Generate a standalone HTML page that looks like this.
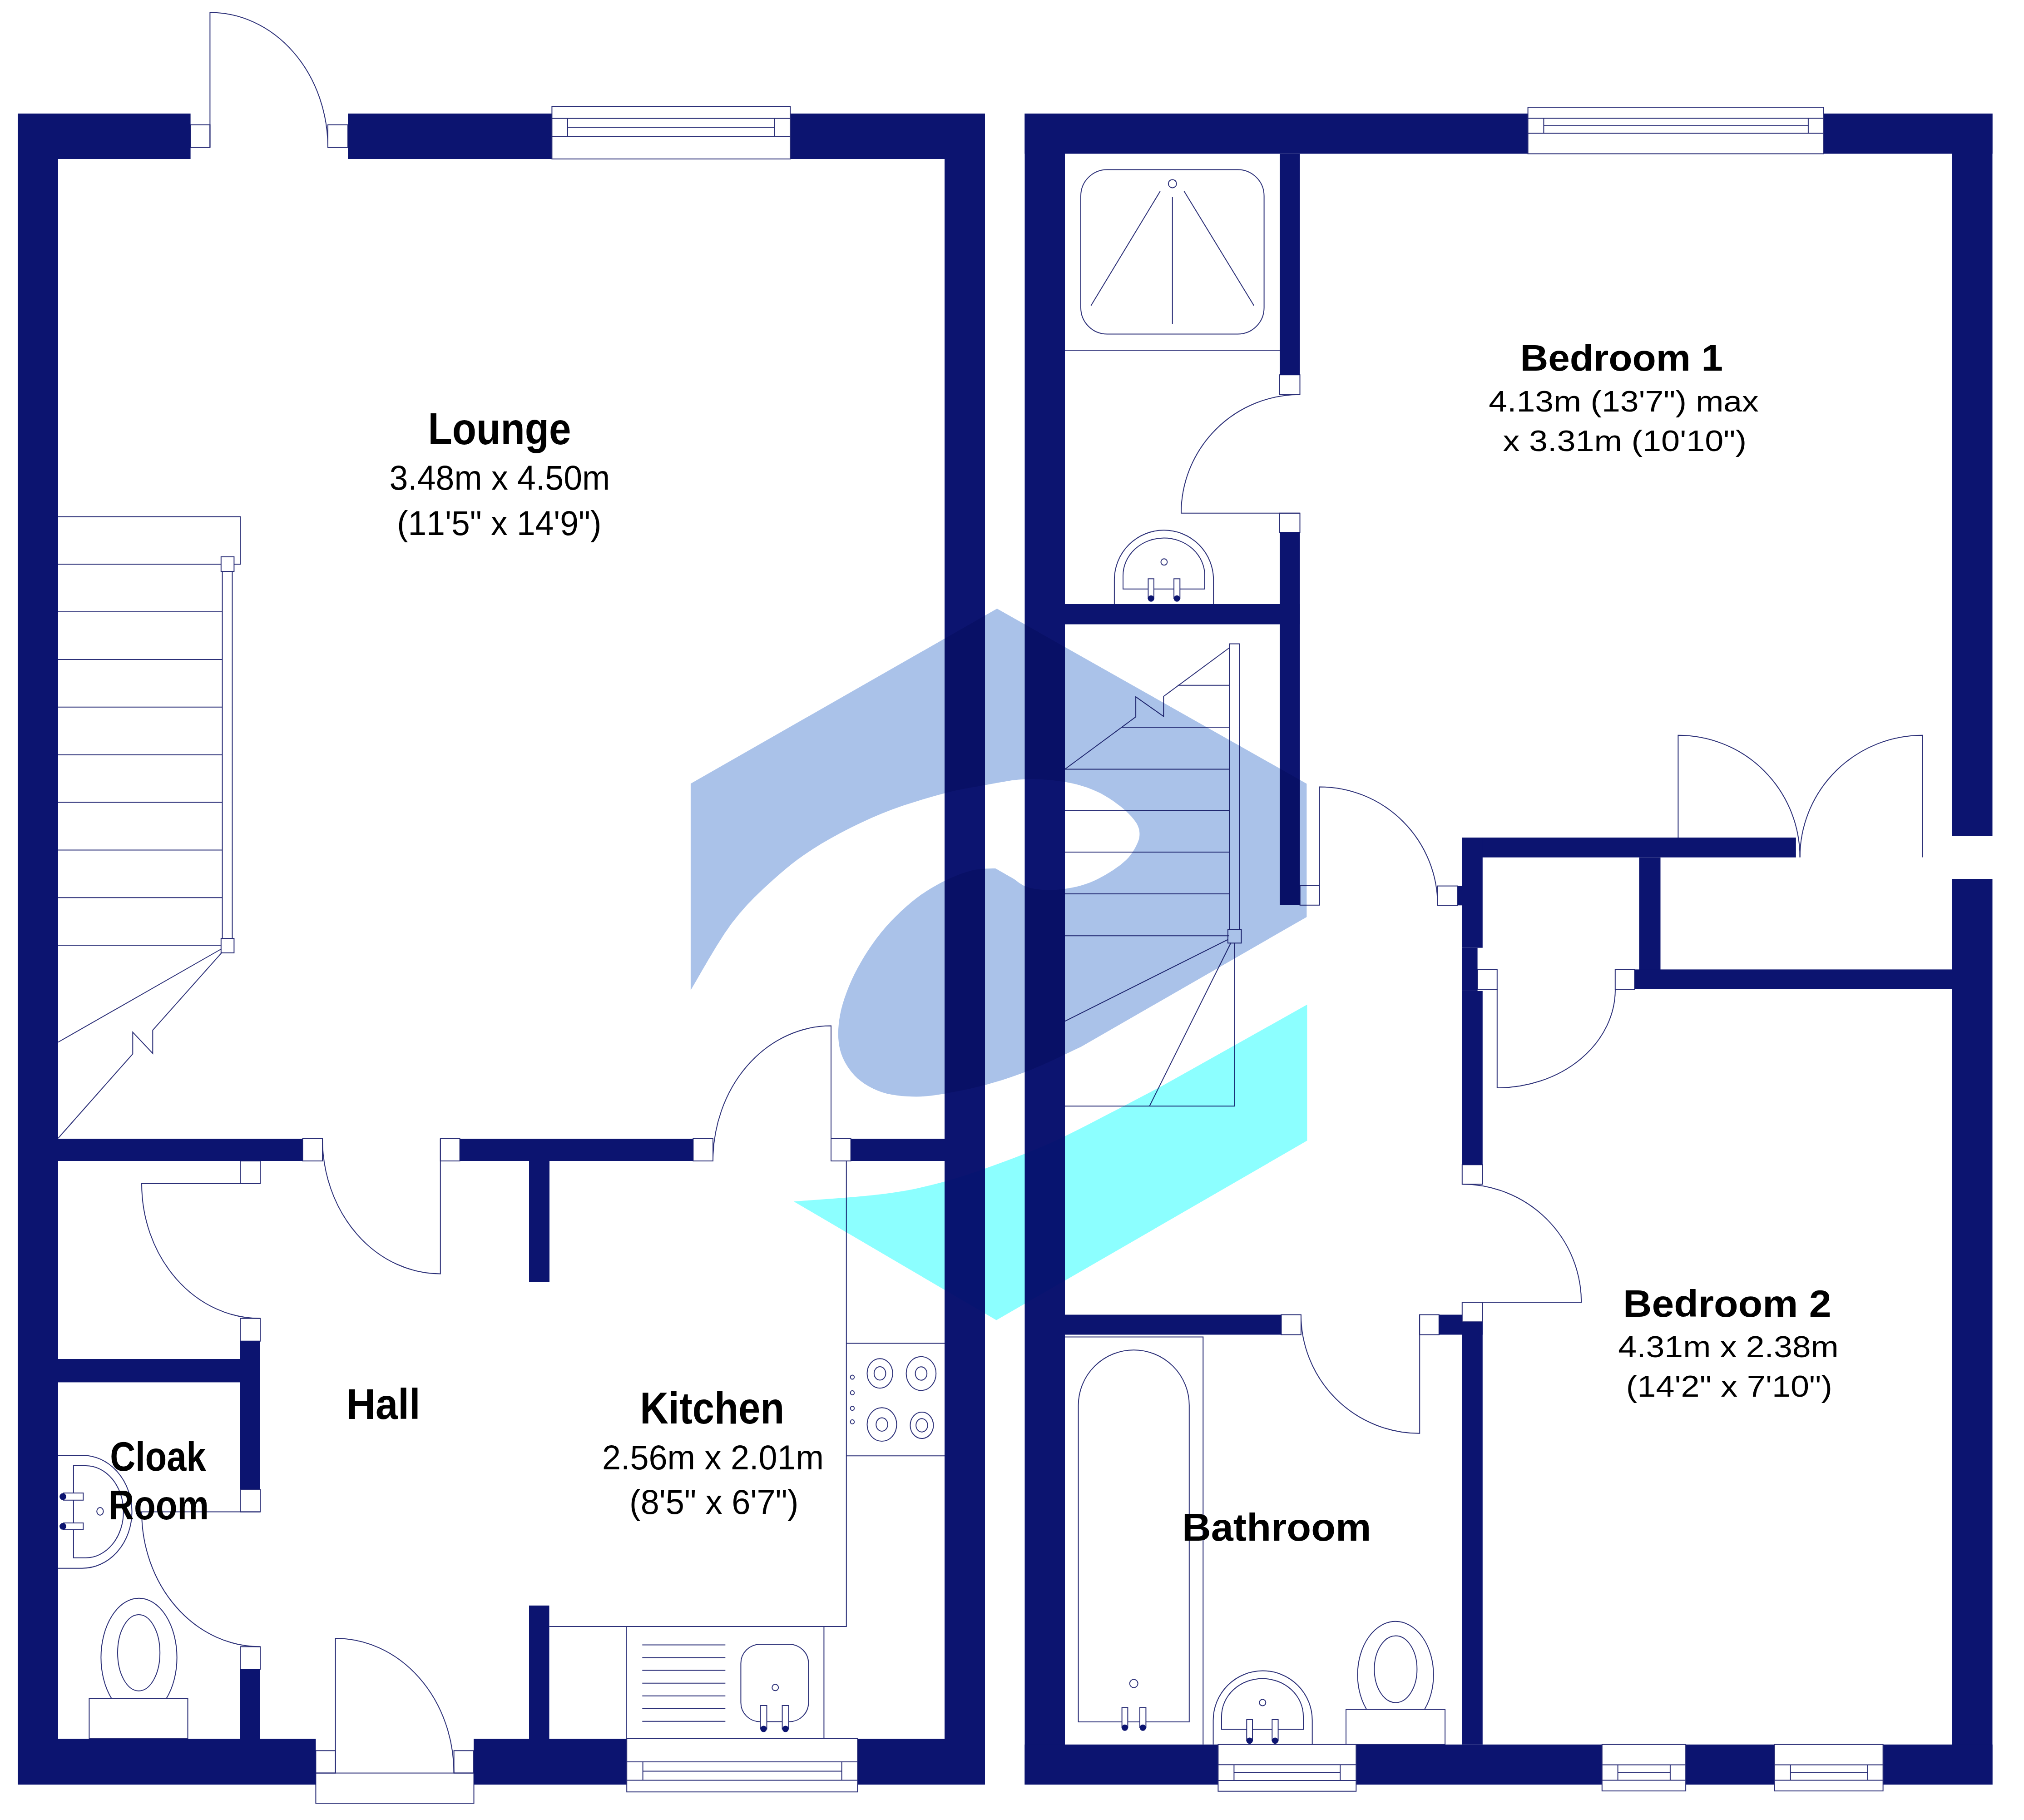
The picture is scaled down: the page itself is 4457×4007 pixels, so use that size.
<!DOCTYPE html>
<html><head><meta charset="utf-8"><title>Floor plan</title>
<style>html,body{margin:0;padding:0;background:#fff}svg{display:block}</style></head>
<body><svg width="4457" height="4007" viewBox="0 0 4457 4007">
<rect width="4457" height="4007" fill="#fff"/>
<g fill="none" stroke="#2c3078" stroke-width="2.0">
<rect x="419.6" y="274.7" width="42.8" height="50.1" fill="none" stroke="#2c3078" stroke-width="2.0"/>
<rect x="722.0" y="274.7" width="44.0" height="50.1" fill="none" stroke="#2c3078" stroke-width="2.0"/>
<rect x="666.5" y="2507.0" width="43.5" height="49.0" fill="none" stroke="#2c3078" stroke-width="2.0"/>
<rect x="969.8" y="2507.0" width="42.8" height="49.0" fill="none" stroke="#2c3078" stroke-width="2.0"/>
<rect x="1526.4" y="2507.0" width="43.6" height="49.0" fill="none" stroke="#2c3078" stroke-width="2.0"/>
<rect x="1830.0" y="2507.0" width="43.6" height="49.0" fill="none" stroke="#2c3078" stroke-width="2.0"/>
<rect x="529.0" y="2556.0" width="44.0" height="50.0" fill="none" stroke="#2c3078" stroke-width="2.0"/>
<rect x="529.0" y="2902.7" width="44.0" height="50.0" fill="none" stroke="#2c3078" stroke-width="2.0"/>
<rect x="529.0" y="3279.0" width="44.0" height="49.6" fill="none" stroke="#2c3078" stroke-width="2.0"/>
<rect x="529.0" y="3625.4" width="44.0" height="49.6" fill="none" stroke="#2c3078" stroke-width="2.0"/>
<rect x="695.4" y="3854.3" width="43.3" height="49.3" fill="none" stroke="#2c3078" stroke-width="2.0"/>
<rect x="999.6" y="3854.3" width="43.4" height="49.3" fill="none" stroke="#2c3078" stroke-width="2.0"/>
<rect x="695.4" y="3903.6" width="348.1" height="66.4" fill="none" stroke="#2c3078" stroke-width="2.0"/>
<rect x="2818.0" y="825.2" width="44.5" height="43.5" fill="none" stroke="#2c3078" stroke-width="2.0"/>
<rect x="2818.0" y="1129.8" width="44.5" height="42.2" fill="none" stroke="#2c3078" stroke-width="2.0"/>
<rect x="2862.7" y="1949.7" width="43.0" height="43.1" fill="none" stroke="#2c3078" stroke-width="2.0"/>
<rect x="3165.8" y="1950.6" width="43.9" height="42.7" fill="none" stroke="#2c3078" stroke-width="2.0"/>
<rect x="3253.6" y="2134.4" width="43.2" height="43.6" fill="none" stroke="#2c3078" stroke-width="2.0"/>
<rect x="3556.8" y="2134.4" width="42.7" height="43.6" fill="none" stroke="#2c3078" stroke-width="2.0"/>
<rect x="3219.8" y="2564.3" width="45.0" height="42.9" fill="none" stroke="#2c3078" stroke-width="2.0"/>
<rect x="3219.8" y="2867.3" width="45.0" height="42.9" fill="none" stroke="#2c3078" stroke-width="2.0"/>
<rect x="2821.5" y="2894.5" width="43.4" height="44.0" fill="none" stroke="#2c3078" stroke-width="2.0"/>
<rect x="3126.0" y="2894.5" width="42.8" height="44.0" fill="none" stroke="#2c3078" stroke-width="2.0"/>
<path d="M462.4 324.8 V27.5 A259.6 297.3 0 0 1 722 324.8"/>
<path d="M969.8 2507 V2804.4 A259.8 297.4 0 0 1 710 2507"/>
<path d="M1830 2556 V2258.6 A260 297.4 0 0 0 1570 2556"/>
<path d="M573 2606 H312 A261 296.7 0 0 0 573 2902.7"/>
<path d="M573 3328.6 H312 A261 296.8 0 0 0 573 3625.4"/>
<path d="M738.7 3903.6 V3607.1 A260.9 296.5 0 0 1 999.6 3903.6"/>
<path d="M2862.5 1129.8 H2601 A261.5 261.1 0 0 1 2862.5 868.7"/>
<path d="M2905.7 1992.8 V1732.4 A260.1 260.4 0 0 1 3165.8 1992.8"/>
<path d="M3296.8 2178 V2395 A260.2 217 0 0 0 3557 2178"/>
<path d="M3695.4 1844 V1618.7 A268.2 268.8 0 0 1 3963.6 1887.5"/>
<path d="M4233.8 1887.5 V1618.7 A270.2 268.8 0 0 0 3963.6 1887.5"/>
<path d="M3220 2867.3 H3482.2 A262.2 260.1 0 0 0 3220 2607.2"/>
<path d="M3126.2 2894.5 V3155.8 A261.3 261.3 0 0 1 2864.9 2894.5"/>
<path d="M128.0 1137.4 L529.0 1137.4 L529.0 1242.3 L128.0 1242.3"/>
<path d="M128.0 1347.1 L489.6 1347.1"/>
<path d="M128.0 1452.0 L489.6 1452.0"/>
<path d="M128.0 1556.8 L489.6 1556.8"/>
<path d="M128.0 1661.7 L489.6 1661.7"/>
<path d="M128.0 1766.5 L489.6 1766.5"/>
<path d="M128.0 1871.4 L489.6 1871.4"/>
<path d="M128.0 1976.2 L489.6 1976.2"/>
<path d="M128.0 2081.1 L489.6 2081.1"/>
<path d="M489.6 1258.0 L489.6 2066.0"/>
<path d="M511.5 1258.0 L511.5 2066.0"/>
<rect x="486.8" y="1225.8" width="28.6" height="32.2" fill="#fff" stroke="#2c3078" stroke-width="2.0"/>
<rect x="486.8" y="2066.0" width="28.6" height="31.8" fill="#fff" stroke="#2c3078" stroke-width="2.0"/>
<path d="M487.0 2089.5 L128.0 2294.5"/>
<path d="M489.0 2096.7 L336.3 2268.1 L336.3 2319.2 L292.3 2272.5 L292.3 2320.3 L128.0 2506.0"/>
<path d="M1863.8 2556.0 L1863.8 3581.0 L1209.5 3581.0"/>
<path d="M1863.8 2957.5 L2080.0 2957.5"/>
<path d="M1863.8 3205.3 L2080.0 3205.3"/>
<ellipse cx="1937.6" cy="3023.7" rx="28.1" ry="32.5" fill="none"/>
<ellipse cx="1937.6" cy="3023.7" rx="12.8" ry="14.7" fill="none"/>
<ellipse cx="2028.4" cy="3024.0" rx="32.8" ry="37.2" fill="none"/>
<ellipse cx="2028.4" cy="3024.0" rx="12.8" ry="14.7" fill="none"/>
<ellipse cx="1942.0" cy="3136.2" rx="32.5" ry="36.9" fill="none"/>
<ellipse cx="1942.0" cy="3136.2" rx="12.8" ry="14.7" fill="none"/>
<ellipse cx="2029.9" cy="3138.0" rx="25.5" ry="29.0" fill="none"/>
<ellipse cx="2029.9" cy="3138.0" rx="12.8" ry="14.7" fill="none"/>
<ellipse cx="1876.9" cy="3032.0" rx="4.2" ry="4.6" fill="none"/>
<ellipse cx="1876.9" cy="3066.4" rx="4.2" ry="4.6" fill="none"/>
<ellipse cx="1876.9" cy="3100.6" rx="4.2" ry="4.6" fill="none"/>
<ellipse cx="1876.9" cy="3130.4" rx="4.2" ry="4.6" fill="none"/>
<rect x="1379.0" y="3581.0" width="435.4" height="247.0" fill="none" stroke="#2c3078" stroke-width="2.0"/>
<path d="M1414.3 3621.5 L1597.3 3621.5"/>
<path d="M1414.3 3649.6 L1597.3 3649.6"/>
<path d="M1414.3 3677.6 L1597.3 3677.6"/>
<path d="M1414.3 3705.7 L1597.3 3705.7"/>
<path d="M1414.3 3733.7 L1597.3 3733.7"/>
<path d="M1414.3 3761.8 L1597.3 3761.8"/>
<path d="M1414.3 3789.8 L1597.3 3789.8"/>
<rect x="1631.4" y="3620.2" width="149" height="170.2" rx="42" ry="42"/>
<circle cx="1707.2" cy="3715.3" r="7.0" fill="none"/>
<rect x="1674.4" y="3755.0" width="14.1" height="51.5" fill="#fff" stroke="#2c3078" stroke-width="2.0"/>
<circle cx="1681.5" cy="3806.5" r="7" fill="#0c1470" stroke="none"/>
<rect x="1722.6" y="3755.0" width="14.1" height="51.5" fill="#fff" stroke="#2c3078" stroke-width="2.0"/>
<circle cx="1729.7" cy="3806.5" r="7" fill="#0c1470" stroke="none"/>
<path d="M128 3203.9 H181 A109.5 124.4 0 0 1 181 3452.7 H128"/>
<path d="M161.9 3227 H189 A83 101.35 0 0 1 189 3429.7 H161.9 Z"/>
<rect x="140.0" y="3287.1" width="43.3" height="15.7" fill="#fff" stroke="#2c3078" stroke-width="2.0"/>
<circle cx="138.5" cy="3294.9" r="7.4" fill="#0c1470" stroke="none"/>
<rect x="140.0" y="3353.0" width="43.3" height="14.9" fill="#fff" stroke="#2c3078" stroke-width="2.0"/>
<circle cx="138.5" cy="3360.4" r="7.4" fill="#0c1470" stroke="none"/>
<ellipse cx="220.4" cy="3327.5" rx="7.2" ry="8.4" fill="none"/>
<ellipse cx="306.0" cy="3649.3" rx="83.6" ry="130.5" fill="none"/>
<ellipse cx="305.6" cy="3638.8" rx="46.6" ry="83.9" fill="none"/>
<rect x="196.4" y="3739.4" width="217.1" height="88.6" fill="#fff" stroke="#2c3078" stroke-width="2.0"/>
<rect x="2380" y="373.4" width="403.6" height="362.1" rx="58" ry="58"/>
<circle cx="2581.8" cy="404.4" r="9.0" fill="none"/>
<path d="M2581.8 434.1 L2581.8 713.0"/>
<path d="M2554.8 421.0 L2402.5 672.8"/>
<path d="M2607.5 421.0 L2761.2 672.8"/>
<path d="M2345.0 771.1 L2818.0 771.1"/>
<path d="M2453.9 1330.0 V1276.5 A109.1 109.1 0 0 1 2672.2 1276.5 V1330.0"/>
<path d="M2473.0 1296.7 V1267.4 A90.0 82.8 0 0 1 2653.0 1267.4 V1296.7 Z"/>
<circle cx="2563.4" cy="1237.3" r="7.0" fill="none"/>
<rect x="2528.4" y="1274.3" width="12.5" height="43.5" fill="#fff" stroke="#2c3078" stroke-width="2.0"/>
<circle cx="2534.7" cy="1317.8" r="7" fill="#0c1470" stroke="none"/>
<rect x="2585.1" y="1274.3" width="13.2" height="43.5" fill="#fff" stroke="#2c3078" stroke-width="2.0"/>
<circle cx="2591.7" cy="1317.8" r="7" fill="#0c1470" stroke="none"/>
<path d="M2671.6 3840.8 V3787.6 A109.0 109.0 0 0 1 2889.7 3787.6 V3840.8"/>
<path d="M2690.0 3807.6 V3778.5 A90.0 82.8 0 0 1 2870.0 3778.5 V3807.6 Z"/>
<circle cx="2780.3" cy="3748.5" r="7.0" fill="none"/>
<rect x="2745.3" y="3786.0" width="12.7" height="46.4" fill="#fff" stroke="#2c3078" stroke-width="2.0"/>
<circle cx="2751.7" cy="3832.4" r="7" fill="#0c1470" stroke="none"/>
<rect x="2801.3" y="3786.0" width="13.3" height="46.4" fill="#fff" stroke="#2c3078" stroke-width="2.0"/>
<circle cx="2807.9" cy="3832.4" r="7" fill="#0c1470" stroke="none"/>
<path d="M2707.0 2046.5 L2707.0 1417.5 L2729.5 1417.5 L2729.5 2046.5"/>
<path d="M2593.4 1508.8 L2707.0 1508.8"/>
<path d="M2470.0 1601.1 L2707.0 1601.1"/>
<path d="M2345.0 1693.5 L2707.0 1693.5"/>
<path d="M2345.0 1784.3 L2707.0 1784.3"/>
<path d="M2345.0 1876.1 L2707.0 1876.1"/>
<path d="M2345.0 1967.9 L2707.0 1967.9"/>
<path d="M2345.0 2060.2 L2707.0 2060.2"/>
<path d="M2707.0 1426.3 L2562.3 1533.2 L2562.3 1577.3 L2501.1 1534.2 L2501.1 1578.3 L2345.0 1693.5"/>
<rect x="2703.9" y="2046.5" width="29.6" height="29.8" fill="none" stroke="#2c3078" stroke-width="2.0"/>
<path d="M2703.8 2068.7 L2345.0 2248.4"/>
<path d="M2710.4 2076.0 L2531.3 2435.2"/>
<path d="M2718.5 2076.3 L2718.5 2435.2 L2345.0 2435.2"/>
<path d="M2345.0 2943.5 L2649.3 2943.5 L2649.3 3840.8"/>
<path d="M2374.6 3791 V3094 A122.1 122 0 0 1 2618.8 3094 V3791 Z"/>
<circle cx="2496.7" cy="3706.5" r="9.0" fill="none"/>
<rect x="2470.6" y="3759.3" width="12.8" height="44.5" fill="#fff" stroke="#2c3078" stroke-width="2.0"/>
<circle cx="2477.0" cy="3803.8" r="7" fill="#0c1470" stroke="none"/>
<rect x="2510.0" y="3759.3" width="13.4" height="44.5" fill="#fff" stroke="#2c3078" stroke-width="2.0"/>
<circle cx="2516.7" cy="3803.8" r="7" fill="#0c1470" stroke="none"/>
<ellipse cx="3073.1" cy="3687.4" rx="83.6" ry="117.6" fill="none"/>
<ellipse cx="3073.4" cy="3675.0" rx="47.0" ry="73.5" fill="none"/>
<rect x="2964.0" y="3763.7" width="218.1" height="77.1" fill="#fff" stroke="#2c3078" stroke-width="2.0"/>
</g>
<g fill="#0c1470">
<rect x="39.0" y="250.0" width="380.6" height="100.0" fill="#0c1470"/>
<rect x="766.0" y="250.0" width="449.4" height="100.0" fill="#0c1470"/>
<rect x="1740.3" y="250.0" width="428.7" height="100.0" fill="#0c1470"/>
<rect x="39.0" y="250.0" width="89.0" height="3679.0" fill="#0c1470"/>
<rect x="2080.0" y="250.0" width="89.0" height="3679.0" fill="#0c1470"/>
<rect x="39.0" y="3828.0" width="656.4" height="101.0" fill="#0c1470"/>
<rect x="1043.0" y="3828.0" width="337.2" height="101.0" fill="#0c1470"/>
<rect x="1888.3" y="3828.0" width="280.7" height="101.0" fill="#0c1470"/>
<rect x="128.0" y="2507.0" width="538.5" height="49.0" fill="#0c1470"/>
<rect x="1012.6" y="2507.0" width="513.8" height="49.0" fill="#0c1470"/>
<rect x="1873.6" y="2507.0" width="206.4" height="49.0" fill="#0c1470"/>
<rect x="1165.0" y="2556.0" width="45.0" height="266.0" fill="#0c1470"/>
<rect x="1165.0" y="3534.8" width="44.5" height="293.2" fill="#0c1470"/>
<rect x="128.0" y="2992.0" width="445.0" height="51.4" fill="#0c1470"/>
<rect x="529.0" y="2952.7" width="44.0" height="326.3" fill="#0c1470"/>
<rect x="529.0" y="3675.0" width="44.0" height="153.0" fill="#0c1470"/>
<rect x="2256.5" y="250.0" width="1108.1" height="88.5" fill="#0c1470"/>
<rect x="4016.0" y="250.0" width="371.5" height="88.5" fill="#0c1470"/>
<rect x="2256.5" y="250.0" width="88.5" height="3679.0" fill="#0c1470"/>
<rect x="4299.0" y="250.0" width="88.5" height="1590.0" fill="#0c1470"/>
<rect x="4299.0" y="1935.0" width="88.5" height="1994.0" fill="#0c1470"/>
<rect x="2256.5" y="3840.8" width="425.9" height="88.2" fill="#0c1470"/>
<rect x="2986.3" y="3840.8" width="541.5" height="88.2" fill="#0c1470"/>
<rect x="3712.1" y="3840.8" width="195.8" height="88.2" fill="#0c1470"/>
<rect x="4146.6" y="3840.8" width="240.9" height="88.2" fill="#0c1470"/>
<rect x="2818.0" y="338.5" width="44.5" height="486.7" fill="#0c1470"/>
<rect x="2818.0" y="1172.0" width="44.5" height="820.8" fill="#0c1470"/>
<rect x="2345.0" y="1330.0" width="517.5" height="44.5" fill="#0c1470"/>
<rect x="3219.8" y="1844.0" width="735.0" height="43.7" fill="#0c1470"/>
<rect x="3219.8" y="1844.0" width="45.0" height="242.7" fill="#0c1470"/>
<rect x="3219.8" y="2086.7" width="33.8" height="95.1" fill="#0c1470"/>
<rect x="3219.8" y="2181.8" width="45.0" height="382.5" fill="#0c1470"/>
<rect x="3219.8" y="2910.2" width="45.0" height="930.6" fill="#0c1470"/>
<rect x="3209.7" y="1950.6" width="10.3" height="42.7" fill="#0c1470"/>
<rect x="3609.5" y="1887.7" width="47.0" height="290.3" fill="#0c1470"/>
<rect x="3599.5" y="2134.4" width="699.5" height="43.6" fill="#0c1470"/>
<rect x="2345.0" y="2894.5" width="476.5" height="44.0" fill="#0c1470"/>
<rect x="3168.8" y="2894.5" width="51.0" height="44.0" fill="#0c1470"/>
<rect x="3219.8" y="2910.2" width="45.0" height="28.3" fill="#0c1470"/>
</g>
<g fill="none" stroke="#2c3078" stroke-width="2.0">
<rect x="1215.4" y="234.0" width="524.9" height="116.0" fill="#fff" stroke="#2c3078" stroke-width="2.0"/>
<path d="M1215.4 260.7 L1740.3 260.7"/>
<path d="M1215.4 300.2 L1740.3 300.2"/>
<path d="M1250.0 280.4 L1705.5 280.4"/>
<path d="M1250.0 260.7 L1250.0 300.2"/>
<path d="M1705.5 260.7 L1705.5 300.2"/>
<rect x="1380.2" y="3828.0" width="508.1" height="117.2" fill="#fff" stroke="#2c3078" stroke-width="2.0"/>
<path d="M1380.2 3879.0 L1888.3 3879.0"/>
<path d="M1380.2 3919.5 L1888.3 3919.5"/>
<path d="M1415.6 3899.6 L1853.6 3899.6"/>
<path d="M1415.6 3879.0 L1415.6 3919.5"/>
<path d="M1853.6 3879.0 L1853.6 3919.5"/>
<rect x="3364.6" y="236.3" width="651.4" height="102.2" fill="#fff" stroke="#2c3078" stroke-width="2.0"/>
<path d="M3364.6 260.5 L4016.0 260.5"/>
<path d="M3364.6 293.5 L4016.0 293.5"/>
<path d="M3399.4 276.7 L3981.9 276.7"/>
<path d="M3399.4 260.5 L3399.4 293.5"/>
<path d="M3981.9 260.5 L3981.9 293.5"/>
<rect x="2682.4" y="3840.8" width="303.9" height="102.9" fill="#fff" stroke="#2c3078" stroke-width="2.0"/>
<path d="M2682.4 3885.2 L2986.3 3885.2"/>
<path d="M2682.4 3920.1 L2986.3 3920.1"/>
<path d="M2717.4 3902.3 L2951.3 3902.3"/>
<path d="M2717.4 3885.2 L2717.4 3920.1"/>
<path d="M2951.3 3885.2 L2951.3 3920.1"/>
<rect x="3527.8" y="3840.8" width="184.3" height="102.2" fill="#fff" stroke="#2c3078" stroke-width="2.0"/>
<path d="M3527.8 3885.4 L3712.1 3885.4"/>
<path d="M3527.8 3919.6 L3712.1 3919.6"/>
<path d="M3562.6 3902.8 L3677.9 3902.8"/>
<path d="M3562.6 3885.4 L3562.6 3919.6"/>
<path d="M3677.9 3885.4 L3677.9 3919.6"/>
<rect x="3907.9" y="3840.8" width="238.7" height="102.2" fill="#fff" stroke="#2c3078" stroke-width="2.0"/>
<path d="M3907.9 3885.4 L4146.6 3885.4"/>
<path d="M3907.9 3919.6 L4146.6 3919.6"/>
<path d="M3942.8 3902.8 L4112.4 3902.8"/>
<path d="M3942.8 3885.4 L3942.8 3919.6"/>
<path d="M4112.4 3885.4 L4112.4 3919.6"/>
</g>
<g font-family="'Liberation Sans', sans-serif" fill="#000" style="font-kerning:none">
<text transform="translate(942.57 977.8) scale(0.8825 1)" font-size="98.84" font-weight="bold">Lounge</text>
<text transform="translate(857.50 1078.3) scale(0.9626 1)" font-size="76.31">3.48m x 4.50m</text>
<text transform="translate(874.16 1177.6) scale(0.9594 1)" font-size="76.31">(11'5&quot; x 14'9&quot;)</text>
<text transform="translate(763.07 3124.0) scale(0.9379 1)" font-size="94.48" font-weight="bold">Hall</text>
<text transform="translate(242.22 3238.2) scale(0.8546 1)" font-size="90.84" font-weight="bold">Cloak</text>
<text transform="translate(238.78 3345.0) scale(0.8589 1)" font-size="90.84" font-weight="bold">Room</text>
<text transform="translate(1409.20 3133.8) scale(0.8818 1)" font-size="98.40" font-weight="bold">Kitchen</text>
<text transform="translate(1325.99 3234.8) scale(0.9670 1)" font-size="76.31">2.56m x 2.01m</text>
<text transform="translate(1386.02 3333.0) scale(0.9688 1)" font-size="76.31">(8'5&quot; x 6'7&quot;)</text>
<text transform="translate(3347.38 816.3) scale(1.0414 1)" font-size="82.12" font-weight="bold">Bedroom 1</text>
<text transform="translate(3278.22 906.3) scale(1.1216 1)" font-size="65.41">4.13m (13'7&quot;) max</text>
<text transform="translate(3309.57 993.0) scale(1.1280 1)" font-size="65.41">x 3.31m (10'10&quot;)</text>
<text transform="translate(3574.03 2899.2) scale(1.0595 1)" font-size="82.85" font-weight="bold">Bedroom 2</text>
<text transform="translate(3563.32 2987.5) scale(1.0979 1)" font-size="66.86">4.31m x 2.38m</text>
<text transform="translate(3580.72 3074.5) scale(1.1047 1)" font-size="66.86">(14'2&quot; x 7'10&quot;)</text>
<text transform="translate(2603.10 3392.4) scale(1.0282 1)" font-size="85.76" font-weight="bold">Bathroom</text>
</g>
<g style="mix-blend-mode:multiply">
<path fill="#aac2e9" d="M1520.9 1725.3 L2195.5 1340.0 L2877.4 1725.4 L2877.4 2018.9 L2380.0 2305.0 L2368.0 2310.6 L2351.4 2318.6 L2331.8 2327.9 L2310.8 2337.7 L2290.0 2347.0 L2271.2 2354.9 L2254.1 2361.5 L2237.5 2367.6 L2221.1 2373.2 L2204.9 2378.4 L2188.7 2383.3 L2172.3 2387.9 L2155.4 2392.3 L2138.1 2396.4 L2120.8 2400.2 L2103.9 2403.6 L2088.0 2406.5 L2073.4 2409.0 L2060.5 2411.0 L2049.0 2412.5 L2038.4 2413.6 L2028.3 2414.2 L2018.1 2414.5 L2007.5 2414.3 L1996.4 2413.8 L1985.0 2412.9 L1973.7 2411.5 L1962.5 2409.7 L1951.7 2407.4 L1941.5 2404.4 L1931.7 2400.8 L1922.2 2396.6 L1913.1 2391.8 L1904.4 2386.6 L1896.3 2380.8 L1888.8 2374.7 L1881.9 2368.0 L1875.5 2360.8 L1869.6 2353.0 L1864.4 2345.0 L1859.7 2336.8 L1855.8 2328.5 L1852.6 2320.2 L1850.1 2311.9 L1848.2 2303.4 L1846.9 2294.6 L1846.1 2285.4 L1845.9 2275.8 L1846.1 2265.7 L1846.9 2255.3 L1848.2 2244.5 L1850.1 2233.3 L1852.6 2221.8 L1855.8 2209.9 L1859.7 2197.5 L1864.4 2184.5 L1869.6 2171.1 L1875.5 2157.6 L1881.9 2144.0 L1888.8 2130.7 L1896.3 2117.4 L1904.4 2103.8 L1913.1 2090.3 L1922.2 2077.0 L1931.7 2064.0 L1941.5 2051.6 L1951.7 2039.6 L1962.5 2027.8 L1973.7 2016.4 L1985.0 2005.5 L1996.4 1995.2 L2007.5 1985.7 L2018.5 1977.0 L2029.5 1969.1 L2040.5 1961.8 L2051.4 1955.0 L2062.4 1948.7 L2073.4 1942.8 L2084.5 1937.2 L2095.9 1932.0 L2107.2 1927.3 L2118.3 1923.0 L2129.1 1919.4 L2139.3 1916.5 L2149.5 1914.4 L2159.8 1913.2 L2169.8 1912.6 L2178.9 1912.3 L2186.5 1912.1 L2192.1 1911.9 L2196.2 1914.2 L2201.8 1917.4 L2208.5 1921.3 L2215.7 1925.4 L2222.7 1929.4 L2229.1 1933.1 L2234.6 1936.6 L2239.7 1940.3 L2244.6 1943.9 L2249.8 1947.3 L2255.5 1950.4 L2262.1 1952.9 L2269.6 1955.0 L2277.7 1956.7 L2286.4 1958.1 L2295.6 1959.0 L2305.1 1959.5 L2314.9 1959.5 L2325.3 1959.0 L2336.4 1957.9 L2347.9 1956.4 L2359.3 1954.5 L2370.4 1952.2 L2380.8 1949.6 L2390.4 1946.6 L2399.6 1943.2 L2408.4 1939.5 L2417.0 1935.4 L2425.3 1931.1 L2433.6 1926.5 L2441.9 1921.6 L2450.3 1916.2 L2458.5 1910.6 L2466.3 1904.9 L2473.4 1899.1 L2479.7 1893.5 L2485.1 1887.9 L2489.7 1882.3 L2493.7 1876.6 L2497.2 1871.1 L2500.2 1865.7 L2502.8 1860.6 L2505.0 1855.8 L2506.8 1851.3 L2508.2 1847.0 L2509.0 1842.8 L2509.4 1838.5 L2509.4 1834.2 L2509.0 1829.9 L2508.2 1825.6 L2506.9 1821.4 L2505.1 1817.1 L2502.7 1812.6 L2499.5 1807.8 L2495.6 1802.7 L2491.0 1797.3 L2485.7 1791.7 L2479.9 1786.0 L2473.5 1780.4 L2466.6 1774.8 L2459.1 1769.2 L2451.0 1763.3 L2442.3 1757.5 L2433.1 1751.9 L2423.6 1746.6 L2413.8 1741.9 L2403.8 1737.7 L2393.7 1733.8 L2383.1 1730.4 L2372.1 1727.2 L2360.3 1724.5 L2347.8 1722.1 L2334.2 1720.0 L2319.6 1718.2 L2304.3 1716.7 L2288.8 1715.7 L2273.2 1715.2 L2258.0 1715.4 L2243.2 1716.4 L2228.5 1718.1 L2213.9 1720.4 L2199.1 1723.0 L2184.2 1725.8 L2169.0 1728.6 L2153.9 1731.2 L2139.0 1733.8 L2123.9 1736.6 L2108.2 1739.8 L2091.5 1743.6 L2073.4 1748.3 L2053.5 1753.8 L2032.1 1760.0 L2009.7 1766.9 L1986.8 1774.3 L1963.9 1782.5 L1941.5 1791.2 L1919.1 1800.8 L1896.3 1811.2 L1873.5 1822.3 L1851.2 1833.8 L1829.8 1845.5 L1809.7 1857.1 L1791.3 1868.5 L1774.3 1879.7 L1758.2 1891.1 L1742.5 1903.1 L1726.9 1915.8 L1710.8 1929.7 L1694.2 1944.5 L1677.5 1959.9 L1660.9 1976.1 L1644.3 1993.3 L1627.9 2011.9 L1611.9 2031.9 L1595.2 2055.7 L1577.6 2083.4 L1560.2 2112.4 L1544.2 2140.0 L1530.7 2163.5 L1520.9 2180.2Z"/>
<path fill="#8cffff" d="M1748.0 2645.3 L1770.5 2643.6 L1802.4 2641.3 L1839.8 2638.5 L1878.9 2635.4 L1915.9 2632.0 L1947.0 2628.6 L1972.0 2625.1 L1993.8 2621.5 L2013.5 2617.7 L2032.2 2613.6 L2050.9 2609.0 L2070.6 2603.9 L2091.2 2598.2 L2111.8 2592.0 L2132.4 2585.4 L2152.9 2578.4 L2173.5 2571.2 L2194.1 2563.8 L2214.7 2556.2 L2235.3 2548.5 L2255.8 2540.5 L2276.4 2532.1 L2297.0 2523.5 L2317.6 2514.4 L2338.2 2504.9 L2358.8 2494.8 L2379.3 2484.5 L2399.9 2473.9 L2420.5 2463.2 L2441.1 2452.6 L2463.1 2441.2 L2486.8 2428.8 L2510.6 2416.3 L2532.6 2404.7 L2551.2 2394.9 L2564.6 2387.8 L2878.4 2211.8 L2878.4 2511.3 L2194.1 2906.6Z"/>
</g>
</svg></body></html>
